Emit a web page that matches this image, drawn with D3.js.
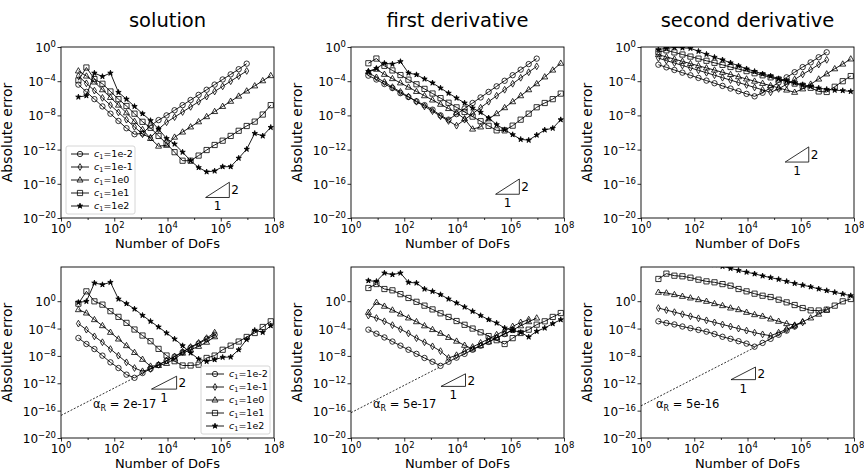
<!DOCTYPE html>
<html>
<head>
<meta charset="utf-8">
<script src="https://cdn.jsdelivr.net/npm/d3@7"></script>
<style>
  body { margin: 0; background: #fff; }
  svg text { font-family: "DejaVu Sans", sans-serif; fill: #000; }
</style>
</head>
<body>
<svg id="fig" width="864" height="471"></svg>
<script>
// Number of degrees of freedom on each refinement level
const dofs = [4.5, 9, 18, 36, 72, 144, 288, 576, 1152, 2304, 4608, 9216, 18432, 36864,
  73728, 147456, 294912, 589824, 1179648, 2359296, 4718592, 9437184, 18874368, 37748736, 75497472];

const c1Labels = ["1e-2", "1e-1", "1e0", "1e1", "1e2"];
const xTicks = [1, 1e2, 1e4, 1e6, 1e8];
const xMinor = [10, 1e3, 1e5, 1e7];
const yTicks = [1e-20, 1e-16, 1e-12, 1e-8, 1e-4, 1];
const titles = ["solution", "first derivative", "second derivative"];
const alphaR = [2e-17, 5e-17, 5e-16];
const alphaText = ["2e-17", "5e-17", "5e-16"];
const alphaEnd = [500, 2000, 19000];

// log10 of the absolute error, top row
const topSol_1em2 = [-4.4,-5.25,-6.1,-6.95,-7.8,-8.65,-9.5,-10.2,-10.1,-9.2,-8.55,-8.0,-7.4,-6.8,-6.2,-5.6,-5.0,-4.4,-3.8,-3.2,-2.6,-1.95];
const topSol_1em1 = [-3.4,-4.25,-5.1,-5.95,-6.8,-7.65,-8.5,-9.35,-10.2,-10.6,-9.6,-8.8,-8.2,-7.6,-7.0,-6.4,-5.8,-5.2,-4.6,-4.0,-3.4,-2.8];
const topSol_1e0 = [-2.8,-3.4,-4.1,-5.0,-5.9,-6.8,-7.7,-8.7,-9.65,-10.7,-11.6,-11.5,-10.55,-9.95,-9.35,-8.75,-8.15,-7.55,-6.95,-6.35,-5.75,-5.15,-4.55,-3.95,-3.35];
const topSol_1e1 = [-3.9,-2.4,-3.75,-4.3,-5.2,-6.1,-6.9,-7.8,-8.75,-9.45,-10.4,-11.3,-12.3,-13.3,-13.3,-12.7,-12.05,-11.46,-10.96,-10.4,-9.8,-9.24,-8.73,-7.9,-6.8];
const topSol_1e2 = [-5.85,-5.7,-3.05,-3.45,-3.05,-5.3,-6.1,-6.95,-7.8,-8.6,-9.6,-10.7,-11.35,-12.3,-13.3,-14.1,-14.6,-14.5,-14.0,-14.0,-13.0,-11.95,-10.1,-10.4,-9.4];

const topD1_1em2 = [-3.35,-3.8,-4.33,-4.8,-5.4,-5.85,-6.35,-6.8,-7.33,-8.0,-8.5,-7.85,-7.2,-6.55,-5.9,-5.25,-4.6,-3.95,-3.3,-2.65,-2.0,-1.36];
const topD1_1em1 = [-3.0,-3.56,-4.1,-4.7,-5.25,-5.8,-6.4,-6.95,-7.5,-8.1,-8.65,-9.2,-8.5,-7.8,-7.1,-6.4,-5.7,-5.0,-4.3,-3.6,-2.95,-2.26];
const topD1_1e0 = [-2.9,-2.6,-3.2,-3.7,-4.2,-4.7,-5.2,-5.7,-6.2,-6.7,-7.2,-7.7,-8.4,-9.6,-9.35,-8.4,-7.8,-7.1,-6.4,-5.7,-5.0,-4.3,-3.5,-2.7,-1.9];
const topD1_1e1 = [-1.9,-1.35,-2.2,-2.74,-3.28,-3.82,-4.36,-4.9,-5.44,-5.98,-6.52,-7.06,-7.6,-8.14,-8.68,-9.22,-9.75,-9.75,-9.2,-8.5,-7.8,-7.05,-6.55,-6.1,-5.45];
const topD1_1e2 = [-2.85,-2.5,-1.9,-2.0,-1.7,-3.04,-3.24,-3.74,-4.2,-4.8,-5.4,-5.97,-6.55,-7.14,-7.64,-8.3,-9.08,-9.67,-10.25,-10.8,-10.9,-10.3,-9.7,-9.5,-8.5];

const topD2_1em2 = [-2.07,-2.38,-2.69,-3.0,-3.31,-3.62,-3.93,-4.24,-4.55,-4.86,-5.17,-5.48,-5.77,-5.35,-4.75,-4.15,-3.55,-2.95,-2.35,-1.8,-1.2,-0.62];
const topD2_1em1 = [-1.3,-1.59,-1.87,-2.16,-2.44,-2.73,-3.01,-3.3,-3.59,-3.87,-4.16,-4.44,-4.73,-5.01,-5.3,-4.9,-4.35,-3.8,-3.2,-2.65,-2.05,-1.5];
const topD2_1e0 = [-0.9,-1.16,-1.42,-1.68,-1.94,-2.2,-2.45,-2.7,-2.96,-3.22,-3.48,-3.74,-4.0,-4.26,-4.52,-4.78,-5.04,-5.3,-4.9,-4.35,-3.75,-3.15,-2.55,-2.0,-1.4];
const topD2_1e1 = [-0.6,-0.39,-0.63,-0.88,-1.12,-1.36,-1.61,-1.85,-2.09,-2.34,-2.58,-2.82,-3.07,-3.31,-3.55,-3.8,-4.04,-4.28,-4.53,-4.77,-5.2,-5.26,-4.65,-4.0,-3.4];
const topD2_1e2 = [-0.3,-0.15,-0.05,-0.1,-0.15,-0.5,-0.85,-1.2,-1.5,-1.85,-2.2,-2.55,-2.85,-3.15,-3.4,-3.7,-3.95,-4.2,-4.4,-4.6,-4.8,-4.95,-5.05,-5.1,-5.2];

// log10 of the absolute error, bottom row
const botSol_1em2 = [-5.38,-6.26,-7.0,-7.96,-8.94,-9.77,-10.74,-11.2,-10.5,-9.9,-9.3,-8.7,-8.1,-7.45,-6.8,-6.2,-5.55,-4.9];
const botSol_1em1 = [-3.28,-4.16,-5.14,-6.0,-7.0,-7.96,-8.94,-9.77,-10.25,-9.9,-9.3,-8.7,-8.1,-7.4,-6.7,-6.1,-5.4,-4.6];
const botSol_1e0 = [-1.24,-1.73,-2.7,-3.58,-4.55,-5.53,-6.5,-7.5,-8.5,-9.5,-9.4,-9.1,-8.45,-7.6,-7.1,-6.6,-6.0,-5.2];
const botSol_1e1 = [-0.36,1.44,-0.02,-0.5,-1.46,-2.29,-3.17,-4.14,-5.02,-5.85,-6.97,-7.94,-8.77,-9.4,-9.4,-9.28,-8.3,-7.95,-7.1,-6.5,-5.9,-5.23,-4.65,-3.77,-2.94];
const botSol_1e2 = [-0.17,-0.02,2.66,2.42,2.76,0.32,-0.36,-1.14,-2.07,-2.94,-3.77,-4.65,-5.53,-6.5,-7.57,-8.45,-8.8,-8.55,-8.2,-8.16,-7.1,-5.6,-4.25,-4.55,-3.58];

const botD1_1em2 = [-4.16,-4.75,-5.3,-5.9,-6.5,-7.1,-7.7,-8.3,-8.85,-9.45,-8.85,-8.25,-7.7,-7.1,-6.5,-5.95,-5.35,-4.8,-4.2];
const botD1_1em1 = [-2.1,-2.46,-2.94,-3.5,-4.1,-4.7,-5.4,-6.0,-6.6,-7.3,-8.3,-7.9,-7.3,-6.7,-6.1,-5.5,-4.9,-4.3,-3.7,-3.1,-2.7];
const botD1_1e0 = [-1.63,-0.17,-0.74,-1.3,-1.87,-2.45,-3.0,-3.6,-4.15,-4.7,-5.3,-5.85,-6.45,-7.0,-6.5,-5.95,-5.35,-4.8,-4.2,-3.6,-3.0,-2.46];
const botD1_1e1 = [1.93,2.51,1.78,1.59,1.03,0.47,-0.09,-0.65,-1.2,-1.77,-2.3,-2.9,-3.45,-4.0,-4.55,-5.1,-5.7,-6.26,-5.4,-4.65,-4.16,-3.43,-2.94,-2.3,-1.73];
const botD1_1e2 = [3.0,2.9,4.12,3.88,4.12,2.76,2.66,1.78,1.44,0.96,0.32,-0.26,-0.85,-1.48,-2.1,-2.7,-3.19,-3.92,-4.26,-4.55,-5.23,-4.4,-3.92,-3.28,-2.7];

const botD2_1em2 = [-2.94,-3.19,-3.4,-3.7,-3.95,-4.2,-4.45,-4.8,-5.2,-5.5,-5.85,-6.2,-6.65,-6.1,-5.5,-4.9,-4.3,-3.7];
const botD2_1em1 = [-1.0,-1.3,-1.6,-1.9,-2.2,-2.5,-2.8,-3.1,-3.4,-3.7,-4.0,-4.3,-4.6,-4.85,-5.04,-4.6,-4.1,-3.6,-3.1];
const botD2_1e0 = [1.3,1.2,0.96,0.71,0.47,0.22,-0.02,-0.36,-0.65,-1.0,-1.24,-1.63,-1.97,-2.2,-2.6,-2.94,-3.28,-3.5,-3.0,-2.45,-1.9,-1.3];
const botD2_1e1 = [3.25,4.03,3.73,3.64,3.44,3.15,2.9,2.76,2.5,2.27,1.78,1.44,1.1,0.8,0.61,0.22,-0.17,-0.56,-1.0,-1.34,-1.36,-1.24,-0.65,-0.02,0.32];
const botD2_1e2 = [7.3,7.1,6.8,6.5,6.2,5.9,5.6,5.35,5.1,4.8,4.5,4.25,4.0,3.7,3.45,3.2,2.9,2.6,2.35,2.1,1.8,1.55,1.3,1.05,0.81];

// slope-2 reference triangles: [x left, x right, y bottom]
const slopeTri = [
  [2.7e5, 2.1e6, 2.5e-18], [2.7e5, 2.1e6, 6e-18], [2.6e5, 2.0e6, 3.5e-14],
  [2.5e3, 2.2e4, 1.4e-13], [2.4e3, 2.0e4, 3.5e-13], [2.4e3, 2.0e4, 3.4e-12]
];

const topData = [
  [topSol_1em2, topSol_1em1, topSol_1e0, topSol_1e1, topSol_1e2],
  [topD1_1em2, topD1_1em1, topD1_1e0, topD1_1e1, topD1_1e2],
  [topD2_1em2, topD2_1em1, topD2_1e0, topD2_1e1, topD2_1e2]
];
const botData = [
  [botSol_1em2, botSol_1em1, botSol_1e0, botSol_1e1, botSol_1e2],
  [botD1_1em2, botD1_1em1, botD1_1e0, botD1_1e1, botD1_1e2],
  [botD2_1em2, botD2_1em1, botD2_1e0, botD2_1e1, botD2_1e2]
];

// ---- layout ----
const colX = [61, 351, 641];
const rowY = [47, 267];
const W = 213, H = 171;

const svg = d3.select("#fig");
const defs = svg.append("defs");

const x = d3.scaleLog().domain([1, 1e8]).range([0, W]);
const yTop = d3.scaleLog().domain([1e-20, 1]).range([H, 0]);
const yBot = d3.scaleLog().domain([1e-20, 1e5]).range([H, 0]);

// marker shapes
const markerPath = {
  circle: "M2.7,0A2.7,2.7 0 1,1 -2.7,0A2.7,2.7 0 1,1 2.7,0Z",
  diamond: "M0,-3.4L2,0L0,3.4L-2,0Z",
  triangle: "M0,-3.3L3,2L-3,2Z",
  square: "M-2.6,-2.6H2.6V2.6H-2.6Z",
  star: d3.symbol(d3.symbolStar, 9)()
};
const markerKinds = ["circle", "diamond", "triangle", "square", "star"];

function supLabel(g, px, py, exp, anchor) {
  const t = g.append("text").attr("x", px).attr("y", py)
    .attr("text-anchor", anchor).style("font-size", "12px");
  t.append("tspan").text("10");
  t.append("tspan").attr("dy", -5).style("font-size", "8.5px")
    .text(exp < 0 ? "\u2212" + (-exp) : String(exp));
}

function drawMarker(g, kind, cx, cy) {
  g.append("path").attr("d", markerPath[kind])
    .attr("transform", `translate(${cx},${cy})`)
    .attr("fill", kind === "star" ? "#000" : "none")
    .attr("stroke", "#000").attr("stroke-width", 0.8);
}

function drawPanel(row, col) {
  const idx = row * 3 + col;
  const y = row === 0 ? yTop : yBot;
  const data = row === 0 ? topData[col] : botData[col];
  const g = svg.append("g").attr("transform", `translate(${colX[col]},${rowY[row]})`);

  defs.append("clipPath").attr("id", "clip" + idx)
    .append("rect").attr("width", W).attr("height", H);

  // axes ticks
  g.append("g").attr("transform", `translate(0,${H})`)
    .call(d3.axisBottom(x).tickValues(xMinor).tickSize(2).tickFormat(""))
    .call(a => a.select(".domain").remove());
  g.append("g").attr("transform", `translate(0,${H})`)
    .call(d3.axisBottom(x).tickValues(xTicks).tickSize(3.5).tickFormat(""))
    .call(a => a.select(".domain").remove());
  g.append("g")
    .call(d3.axisLeft(y).tickValues(yTicks).tickSize(3.5).tickFormat(""))
    .call(a => a.select(".domain").remove());
  g.selectAll(".tick line").attr("stroke", "#000").attr("stroke-width", 0.8);

  xTicks.forEach(v => supLabel(g, x(v), H + 15, Math.round(Math.log10(v)), "middle"));
  yTicks.forEach(v => supLabel(g, -5, y(v) + 5, Math.round(Math.log10(v)), "end"));

  const plot = g.append("g").attr("clip-path", `url(#clip${idx})`);

  // reference line alpha_R * N^2
  if (row === 1) {
    const aR = alphaR[col];
    plot.append("path")
      .attr("d", d3.line().x(d => x(d)).y(d => y(aR * d * d))([1, alphaEnd[col]]))
      .attr("fill", "none").attr("stroke", "#000").attr("stroke-width", 0.8)
      .attr("stroke-dasharray", "2,1.6");
  }

  // error curves
  data.forEach((vals, si) => {
    const pts = vals.map((v, k) => [dofs[k], Math.pow(10, v)]);
    plot.append("path")
      .attr("d", d3.line().x(d => x(d[0])).y(d => y(d[1]))(pts))
      .attr("fill", "none").attr("stroke", "#000").attr("stroke-width", 0.9);
    pts.forEach(p => drawMarker(plot, markerKinds[si], x(p[0]), y(p[1])));
  });

  // slope triangle
  const [tx0, tx1, ty0] = slopeTri[idx];
  const ty1 = ty0 * Math.pow(tx1 / tx0, 2);
  g.append("path")
    .attr("d", `M${x(tx0)},${y(ty0)}L${x(tx1)},${y(ty0)}L${x(tx1)},${y(ty1)}Z`)
    .attr("fill", "none").attr("stroke", "#000").attr("stroke-width", 0.8);
  g.append("text").attr("x", x(tx1) + 2).attr("y", (y(ty0) + y(ty1)) / 2 + 4.5)
    .style("font-size", "12px").text("2");
  g.append("text").attr("x", (x(tx0) + x(tx1)) / 2).attr("y", y(ty0) + 13)
    .attr("text-anchor", "middle").style("font-size", "12px").text("1");

  // alpha_R annotation
  if (row === 1) {
    const t = g.append("text").attr("x", [32, 22, 15][col]).attr("y", 141)
      .style("font-size", "11.5px");
    t.append("tspan").text("\u03b1");
    t.append("tspan").attr("dy", 3).style("font-size", "8px").text("R");
    t.append("tspan").attr("dy", -3).text(" = " + alphaText[col]);
  }

  // frame
  g.append("rect").attr("width", W).attr("height", H)
    .attr("fill", "none").attr("stroke", "#000").attr("stroke-width", 0.9);

  // axis labels
  g.append("text").attr("x", W / 2).attr("y", H + 30).attr("text-anchor", "middle")
    .style("font-size", "13px").text("Number of DoFs");
  g.append("text").attr("transform", `translate(${-49},${H / 2}) rotate(-90)`)
    .attr("text-anchor", "middle").style("font-size", "14px").text("Absolute error");

  if (row === 0) {
    g.append("text").attr("x", W / 2).attr("y", -20).attr("text-anchor", "middle")
      .style("font-size", "19.5px").text(titles[col]);
  }

  // legend
  if (col === 0) {
    const lx = row === 0 ? 5 : 140, ly = 99;
    const lg = g.append("g").attr("transform", `translate(${lx},${ly})`);
    lg.append("rect").attr("width", 69).attr("height", 68).attr("rx", 2)
      .attr("fill", "#fff").attr("fill-opacity", 0.8)
      .attr("stroke", "#ccc").attr("stroke-width", 0.8);
    c1Labels.forEach((lab, i) => {
      const cy = 8 + i * 13;
      lg.append("line").attr("x1", 5).attr("x2", 23).attr("y1", cy).attr("y2", cy)
        .attr("stroke", "#000").attr("stroke-width", 0.9);
      drawMarker(lg, markerKinds[i], 14, cy);
      const t = lg.append("text").attr("x", 28).attr("y", cy + 3.3).style("font-size", "9.5px");
      t.append("tspan").style("font-style", "italic").text("c");
      t.append("tspan").attr("dy", 2).style("font-size", "6.5px").text("1");
      t.append("tspan").attr("dy", -2).text("=" + lab);
    });
  }
}

for (let r = 0; r < 2; r++) for (let c = 0; c < 3; c++) drawPanel(r, c);
</script>
</body>
</html>
